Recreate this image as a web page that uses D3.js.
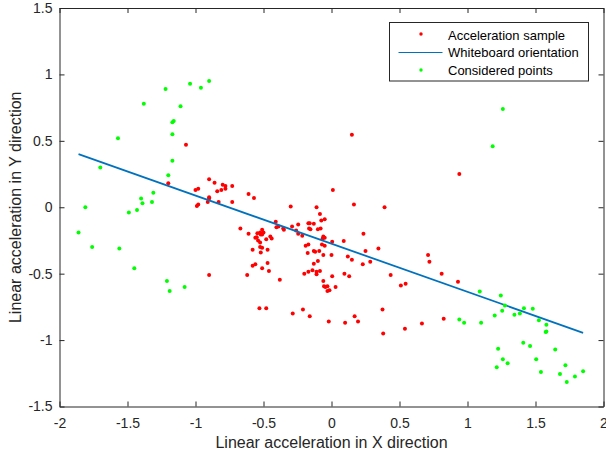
<!DOCTYPE html>
<html>
<head>
  <meta charset="utf-8">
  <script src="https://cdnjs.cloudflare.com/ajax/libs/d3/7.8.5/d3.min.js"></script>
  <style>
    body { margin: 0; background: #fff; }
    svg { font-family: Arial, "Liberation Sans", sans-serif; }
    .tick text { font-size: 14px; fill: #262626; }
    .tick line, .domain { stroke: #262626; }
    .axis-label { font-size: 16px; fill: #262626; }
    .legend-text { font-size: 13px; fill: #000; }
  </style>
</head>
<body>
  <div id="chart"></div>
  <script>
    // Acceleration samples (red)
    const samplePoints = [
      [-1.07,0.47],[-1.20,0.18],[-0.90,0.21],[-0.86,0.185],[-1.00,0.13],[-0.98,0.14],[-0.99,0.01],[-0.98,0.02],
      [-0.91,0.04],[-0.90,0.075],[-0.90,0.065],[-0.84,0.12],[-0.83,0.04],[-0.81,0.13],[-0.80,0.17],[-0.78,0.16],
      [-0.78,0.14],[-0.73,0.16],[-0.73,0.04],[-0.61,0.10],[-0.57,0.07],[-0.30,0.005],
      [-0.67,-0.16],[-0.61,-0.20],[-0.56,-0.23],[-0.55,-0.225],[-0.54,-0.25],[-0.525,-0.265],[-0.51,-0.205],
      [-0.52,-0.205],[-0.50,-0.19],[-0.545,-0.195],[-0.525,-0.19],[-0.51,-0.17],[-0.48,-0.24],[-0.45,-0.22],
      [-0.44,-0.235],[-0.525,-0.30],[-0.51,-0.305],[-0.58,-0.32],[-0.52,-0.34],[-0.47,-0.32],
      [-0.41,-0.11],[-0.405,-0.15],[-0.39,-0.145],[-0.355,-0.16],[-0.35,-0.17],[-0.29,-0.145],[-0.245,-0.13],
      [-0.26,-0.175],[-0.245,-0.20],[-0.215,-0.215],
      [-0.90,-0.51],[-0.62,-0.51],[-0.58,-0.44],[-0.56,-0.43],[-0.51,-0.46],[-0.47,-0.42],[-0.46,-0.48],
      [-0.38,-0.545],[-0.53,-0.76],[-0.48,-0.76],[-0.285,-0.80],[-0.21,-0.77],[-0.16,-0.82],[-0.02,-0.86],
      [0.10,-0.87],[0.17,-0.82],[0.195,-0.86],
      [-0.11,0.00],[-0.085,-0.05],[-0.075,-0.10],[-0.05,-0.09],[-0.17,-0.12],[-0.16,-0.12],[-0.13,-0.125],
      [-0.165,-0.16],[-0.155,-0.165],[-0.10,-0.165],[-0.08,-0.16],[-0.06,-0.22],[-0.05,-0.23],[-0.065,-0.235],
      [-0.19,-0.29],[-0.17,-0.28],[-0.175,-0.345],[-0.13,-0.33],[-0.12,-0.335],[-0.09,-0.33],[-0.07,-0.28],
      [-0.05,-0.29],[-0.13,-0.425],[-0.10,-0.405],[-0.06,-0.36],[0.005,-0.26],[0.00,-0.36],
      [-0.20,-0.50],[-0.17,-0.485],[-0.14,-0.475],[-0.11,-0.485],[-0.11,-0.505],[-0.085,-0.48],
      [-0.06,-0.555],[-0.055,-0.595],[-0.045,-0.60],[-0.03,-0.595],[-0.015,-0.625],[-0.03,-0.63],
      [0.005,-0.52],[0.03,-0.60],
      [0.15,0.545],[0.01,0.13],[0.165,0.02],[0.39,0.00],[0.94,0.25],
      [0.09,-0.255],[0.12,-0.37],[0.15,-0.395],[0.235,-0.20],[0.25,-0.33],[0.285,-0.41],[0.23,-0.43],
      [0.095,-0.50],[0.13,-0.52],[0.345,-0.31],[0.435,-0.51],[0.51,-0.59],[0.545,-0.575],[0.71,-0.36],
      [0.72,-0.41],[0.81,-0.50],[0.93,-0.56],[0.375,-0.77],[0.38,-0.95],[0.54,-0.915],[0.665,-0.875],[0.825,-0.84]
    ];

    // Considered points (green)
    const consideredPoints = [
      [-1.81,0.00],[-1.70,0.30],[-1.57,0.52],[-1.38,0.78],[-1.49,-0.04],[-1.43,-0.02],[-1.40,0.065],[-1.39,0.03],
      [-1.32,0.04],[-1.31,0.11],[-1.22,0.89],[-1.20,0.24],[-1.17,0.35],[-1.17,0.55],[-1.17,0.64],[-1.16,0.65],
      [-1.11,0.76],[-1.04,0.93],[-0.96,0.90],[-0.90,0.95],
      [-1.86,-0.19],[-1.76,-0.30],[-1.56,-0.31],[-1.45,-0.46],[-1.21,-0.555],[-1.19,-0.63],[-1.08,-0.60],
      [1.26,0.74],[1.185,0.46],
      [0.94,-0.845],[0.975,-0.87],[1.09,-0.635],[1.10,-0.87],[1.20,-0.815],[1.245,-0.665],[1.255,-0.78],
      [1.275,-0.74],[1.345,-0.81],[1.385,-0.80],[1.415,-0.76],[1.48,-0.765],[1.525,-0.85],[1.58,-0.885],
      [1.58,-0.935],[1.575,-0.94],[1.225,-1.065],[1.26,-1.145],[1.295,-1.175],[1.215,-1.205],[1.41,-1.02],
      [1.46,-1.045],[1.505,-1.145],[1.54,-1.24],[1.645,-1.07],[1.68,-1.255],[1.72,-1.19],[1.73,-1.315],
      [1.79,-1.275],[1.85,-1.235]
    ];

    // Fitted whiteboard orientation line
    const orientationLine = [[-1.86,0.40],[1.85,-0.945]];

    const xTicks = [-2,-1.5,-1,-0.5,0,0.5,1,1.5,2];
    const yTicks = [-1.5,-1,-0.5,0,0.5,1,1.5];
    const legendLabels = ["Acceleration sample","Whiteboard orientation","Considered points"];

    const W = 606, H = 455;
    const plotLeft = 59.5, plotRight = 603.5, plotTop = 8, plotBottom = 406.5;

    const svg = d3.select("#chart").append("svg")
      .attr("width", W)
      .attr("height", H);

    const x = d3.scaleLinear().domain([-2, 2]).range([plotLeft, plotRight]);
    const y = d3.scaleLinear().domain([-1.5, 1.5]).range([plotBottom, plotTop]);

    // plain hyphen labels like the original
    const fmt = d => String(d);

    // axes (ticks pointing inward, box on all sides)
    svg.append("g")
      .attr("transform", `translate(0,${plotBottom})`)
      .call(d3.axisBottom(x).tickValues(xTicks).tickFormat(fmt).tickSizeInner(-5).tickSizeOuter(0).tickPadding(11.5));
    svg.append("g")
      .attr("transform", `translate(0,${plotTop})`)
      .call(d3.axisTop(x).tickValues(xTicks).tickFormat("").tickSizeInner(-5).tickSizeOuter(0));
    svg.append("g")
      .attr("transform", `translate(${plotLeft},0)`)
      .call(d3.axisLeft(y).tickValues(yTicks).tickFormat(fmt).tickSizeInner(-5).tickSizeOuter(0).tickPadding(7));
    svg.append("g")
      .attr("transform", `translate(${plotRight},0)`)
      .call(d3.axisRight(y).tickValues(yTicks).tickFormat("").tickSizeInner(-5).tickSizeOuter(0));

    svg.append("text")
      .attr("class", "axis-label")
      .attr("x", (plotLeft + plotRight) / 2)
      .attr("y", 448)
      .attr("text-anchor", "middle")
      .text("Linear acceleration in X direction");

    svg.append("text")
      .attr("class", "axis-label")
      .attr("transform", `translate(21,${(plotTop + plotBottom) / 2}) rotate(-90)`)
      .attr("text-anchor", "middle")
      .text("Linear acceleration in Y direction");

    // samples
    svg.append("g").selectAll("circle")
      .data(samplePoints)
      .join("circle")
      .attr("cx", d => x(d[0]))
      .attr("cy", d => y(d[1]))
      .attr("r", 2)
      .attr("fill", "#ff0000");

    // orientation line
    svg.append("path")
      .datum(orientationLine)
      .attr("fill", "none")
      .attr("stroke", "#0072bd")
      .attr("stroke-width", 1.8)
      .attr("d", d3.line().x(d => x(d[0])).y(d => y(d[1])));

    // considered points
    svg.append("g").selectAll("circle")
      .data(consideredPoints)
      .join("circle")
      .attr("cx", d => x(d[0]))
      .attr("cy", d => y(d[1]))
      .attr("r", 2)
      .attr("fill", "#00ff00");

    // legend
    const legend = svg.append("g").attr("transform", "translate(389.5,22.5)");
    legend.append("rect")
      .attr("width", 199)
      .attr("height", 58.5)
      .attr("fill", "#fff")
      .attr("stroke", "#262626")
      .attr("stroke-width", 1);

    const rows = legend.selectAll(".row")
      .data(legendLabels)
      .join("g")
      .attr("transform", (d, i) => `translate(0,${12.5 + i * 17.5})`);

    rows.append("text")
      .attr("class", "legend-text")
      .attr("x", 58.5)
      .attr("y", 4.7)
      .text(d => d);

    rows.filter((d, i) => i === 0).append("circle")
      .attr("cx", 31.5).attr("cy", -1).attr("r", 1.7).attr("fill", "#ff0000");
    rows.filter((d, i) => i === 1).append("line")
      .attr("x1", 9).attr("x2", 53).attr("y1", 0).attr("y2", 0)
      .attr("stroke", "#0072bd").attr("stroke-width", 1);
    rows.filter((d, i) => i === 2).append("circle")
      .attr("cx", 31.5).attr("cy", 0).attr("r", 1.7).attr("fill", "#00ff00");
  </script>
</body>
</html>
